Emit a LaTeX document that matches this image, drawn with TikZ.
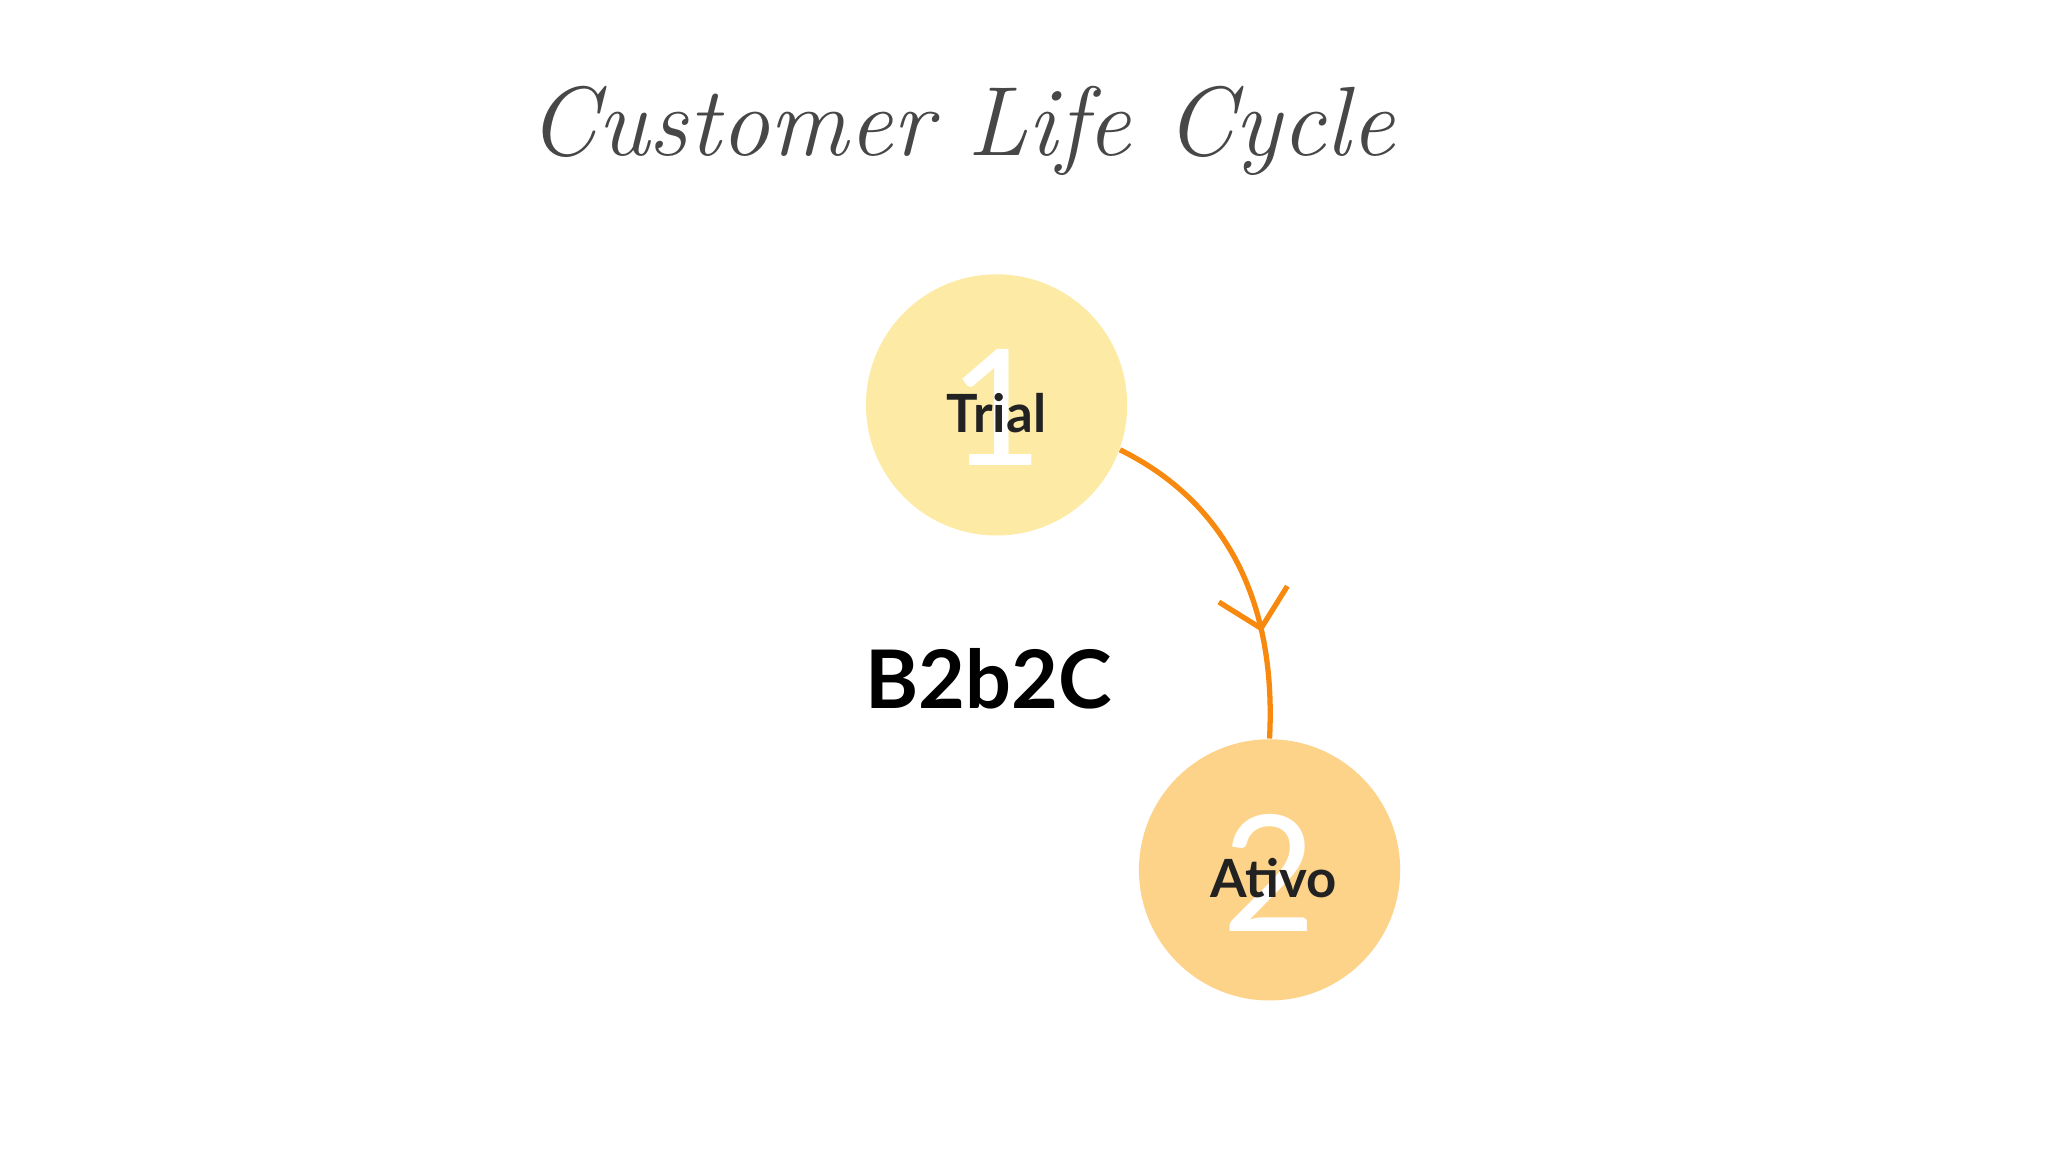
\documentclass[tikz,border=0pt]{standalone}
\usepackage{fontspec}
\setmainfont{Lato}
\newfontfamily\titlefont{Latin Modern Roman}
\usetikzlibrary{decorations.markings}
\definecolor{cA}{HTML}{FDEBA5}
\definecolor{cB}{HTML}{FDD38A}
\definecolor{orng}{HTML}{F7890E}
\definecolor{ink}{HTML}{222222}
\begin{document}
\begin{tikzpicture}[x=0.013061cm,y=-0.013061cm,
  stage/.style={circle,minimum size=200*0.013061cm,inner sep=0},
  num/.style={text=white,font=\fontsize{46}{46}\selectfont},
  lab/.style={text=ink,font=\fontsize{15}{15}\selectfont\bfseries}]
\useasboundingbox (0,0) rectangle (1568,882);
\node[stage,fill=cA] (s1) at (763,310) {};
\node[stage,fill=cB] (s2) at (972,666) {};
\node[num] (n1) at (763,312) {1};
\node[num] (n2) at (972,668) {2};
\node[lab] (t1) at (763,316) {Trial};
\node[lab] (t2) at (975,672) {Ativo};
\node[text=black,font=\fontsize{23}{23}\selectfont\bfseries] (b) at (757,520) {B2b2C};
\node[text=black!72,font=\fontsize{28}{28}\selectfont\titlefont\itshape] (title) at (736,100) {Customer Life Cycle};
\draw[orng,line width=1.5pt,decoration={markings,mark=at position 0.68 with {
  \draw[line width=1.5pt] (-10pt,-10pt) -- (0,0) -- (-10pt,10pt);}},postaction={decorate}]
  (s1.-20) .. controls (930,380) and (978,450) .. (s2.90);
\end{tikzpicture}
\end{document}
